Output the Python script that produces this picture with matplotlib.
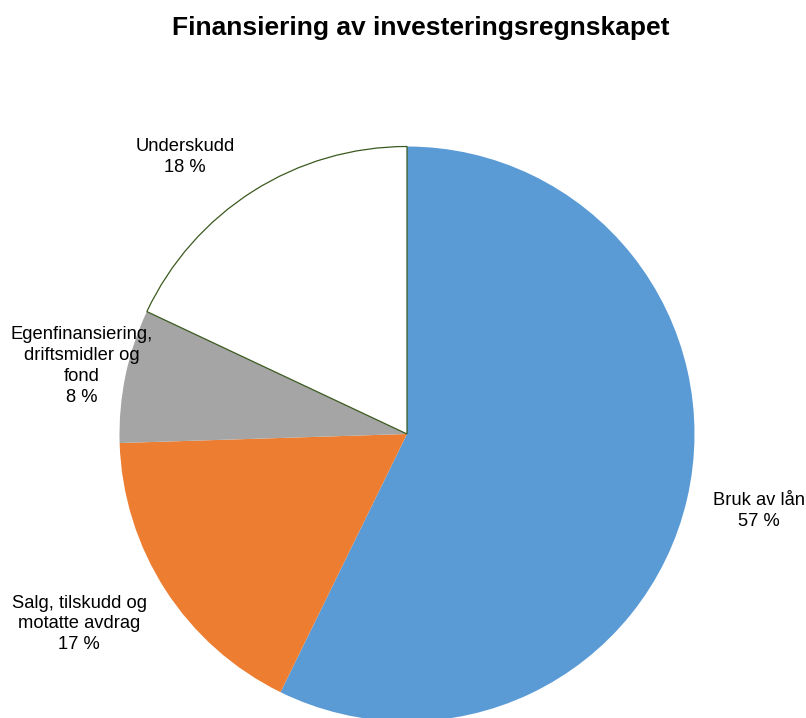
import numpy as np
import matplotlib
matplotlib.use('Agg')
from matplotlib import pyplot as plt

plt.rcParams['font.family'] = ['Liberation Sans', 'DejaVu Sans']

# andeler lest av figuren (prosent)
categories = ['Bruk av lån', 'Salg, tilskudd og\nmotatte avdrag',
              'Egenfinansiering,\ndriftsmidler og\nfond', 'Underskudd']
values = [57.25, 17.25, 7.5, 18.0]
colors = ['#5B9BD5', '#ED7D31', '#A5A5A5', '#FFFFFF']

# plassering av etikettene (piksler i figuren)
label_pos = [(759, 511), (79, 624), (82, 366), (185, 157)]

W, H = 806, 718
fig = plt.figure(figsize=(W / 100, H / 100), dpi=100)
ax = fig.add_axes([0, 0, 1, 1])

wedges, _ = ax.pie(values, colors=colors, startangle=90, counterclock=False,
                   center=(407, H - 434), radius=287.5,
                   wedgeprops=dict(linewidth=0))
# underskudd har tynn mørk kant
wedges[3].set_edgecolor('#3A5A1E')
wedges[3].set_linewidth(0.9)

ax.set_xlim(0, W)
ax.set_ylim(0, H)
ax.set_aspect('equal')
ax.axis('off')

for cat, v, (px, py) in zip(categories, values, label_pos):
    txt = '%s\n%d %%' % (cat, int(v + 0.5))
    fig.text(px / W, 1 - py / H, txt, ha='center', va='center',
             multialignment='center', fontsize=13.2, linespacing=1.3,
             color='#000000')

fig.text(421 / W, 1 - 28 / H, 'Finansiering av investeringsregnskapet',
         ha='center', va='center', fontsize=19, fontweight='bold')

fig.savefig('out.png', dpi=100)
